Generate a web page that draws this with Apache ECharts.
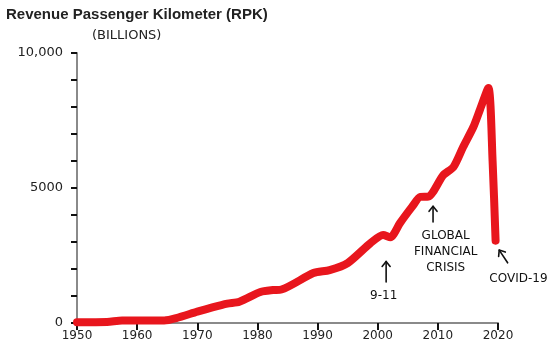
<!DOCTYPE html>
<html>
<head>
<meta charset="utf-8">
<script src="https://cdn.jsdelivr.net/npm/echarts@6/dist/echarts.min.js"></script>
<style>html,body{margin:0;padding:0;background:#fff}#c{width:550px;height:352px}</style>
</head>
<body>
<div id="c"></div>
<script>
const years = [1950, 1955, 1957.5, 1964.5, 1966.5, 1970, 1972.5, 1975, 1977, 1980.5, 1982.6, 1984, 1989.3, 1992, 1995, 1998.8, 2000.9, 2002.1, 2003.7, 2005.7, 2007.1, 2008.4, 2010.9, 2012.6, 2014.2, 2015.9, 2017, 2018.4, 2019.1, 2019.6];
const rpk = [30, 40, 90, 90, 180, 420, 580, 720, 790, 1150, 1220, 1240, 1850, 1960, 2220, 2960, 3260, 3180, 3700, 4300, 4670, 4680, 5480, 5780, 6520, 7260, 7900, 8700, 6000, 3050];
const xTicks = [1950, 1960, 1970, 1980, 1990, 2000, 2010, 2020];
const yLabels = {0: '0', 5000: '5000', 10000: '10,000'};
// annotations: arrow from (x1,y1) to (x2,y2), text centred at (tx,ty)
const noteText = ['9-11', 'GLOBAL\nFINANCIAL\nCRISIS', 'COVID-19'];
const noteArrowFrom = [[2001.4, 1520], [2009.2, 3740], [2021.6, 2230]];
const noteArrowTo = [[2001.4, 2280], [2009.2, 4320], [2020.2, 2700]];
const noteAt = [[2001.0, 1000], [2011.3, 2650], [2023.4, 1650]];

const hand = 'DejaVu Sans';
const chart = echarts.init(document.getElementById('c'), null, {renderer: 'canvas'});

function renderNote(params, api) {
  const i = params.dataIndex;
  const a = api.coord(noteArrowFrom[i]);
  const b = api.coord(noteArrowTo[i]);
  const t = api.coord(noteAt[i]);
  const dx = b[0] - a[0], dy = b[1] - a[1];
  const len = Math.sqrt(dx * dx + dy * dy);
  const ux = dx / len, uy = dy / len;
  const h = 5;
  const p1 = [b[0] - ux * h - uy * h * 0.8, b[1] - uy * h + ux * h * 0.8];
  const p2 = [b[0] - ux * h + uy * h * 0.8, b[1] - uy * h - ux * h * 0.8];
  const stroke = {stroke: '#111', lineWidth: 1.6, fill: null, lineCap: 'round', lineJoin: 'round'};
  return {
    type: 'group',
    children: [
      {type: 'line', shape: {x1: a[0], y1: a[1], x2: b[0], y2: b[1]}, style: stroke},
      {type: 'polyline', shape: {points: [p1, b, p2]}, style: stroke},
      {type: 'text', x: t[0], y: t[1], style: {
        text: noteText[i], fill: '#111', font: '12px "' + hand + '"',
        align: 'center', verticalAlign: 'middle', lineHeight: 16
      }}
    ]
  };
}

chart.setOption({
  animation: false,
  title: {
    text: 'Revenue Passenger Kilometer (RPK)',
    left: 1, top: 2,
    textStyle: {fontFamily: 'Liberation Sans', fontWeight: 'bold', fontSize: 15, color: '#222'}
  },
  graphic: [{
    type: 'text', left: 92, top: 29,
    style: {text: '(BILLIONS)', font: '13px "' + hand + '"', fill: '#222'}
  }],
  grid: {left: 77, right: 52, top: 53, bottom: 29, containLabel: false},
  xAxis: {
    type: 'value', min: 1950, max: 2020, interval: 10,
    axisLine: {lineStyle: {color: '#8a8a8a', width: 2}},
    axisTick: {show: true, length: 7, lineStyle: {color: '#111', width: 2}},
    axisLabel: {
      color: '#222', fontFamily: hand, fontSize: 12, margin: 7,
      formatter: v => xTicks.includes(v) ? String(v) : ''
    },
    splitLine: {show: false}
  },
  yAxis: {
    type: 'value', min: 0, max: 10000, interval: 1000,
    axisLine: {show: true, lineStyle: {color: '#8a8a8a', width: 2}},
    axisTick: {show: true, length: 6, lineStyle: {color: '#111', width: 2}},
    axisLabel: {
      color: '#222', fontFamily: hand, fontSize: 13, margin: 14,
      formatter: v => yLabels[v] !== undefined ? yLabels[v] : ''
    },
    splitLine: {show: false}
  },
  series: [{
    type: 'line',
    data: years.map((y, i) => [y, rpk[i]]),
    smooth: 0.25,
    showSymbol: false,
    lineStyle: {color: '#e8161d', width: 8, cap: 'round', join: 'round'}
  }, {
    type: 'custom',
    clip: false,
    silent: true,
    renderItem: renderNote,
    data: noteAt.map(p => p)
  }]
});
</script>
</body>
</html>
